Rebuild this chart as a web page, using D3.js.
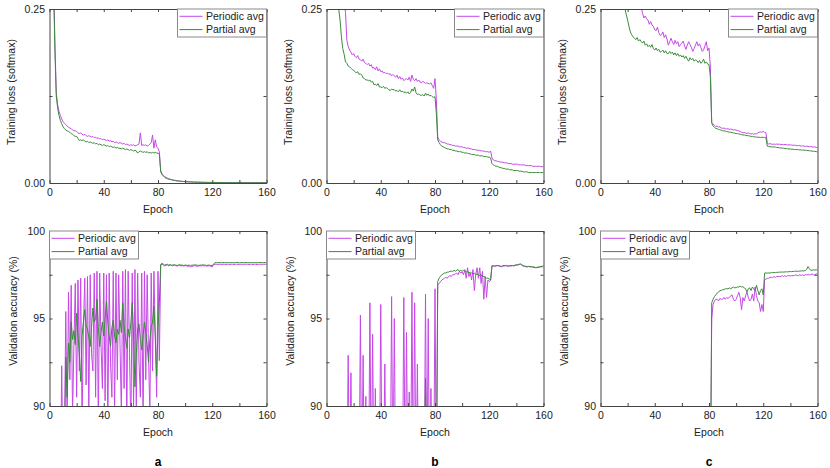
<!DOCTYPE html>
<html><head><meta charset="utf-8">
<script src="https://cdn.jsdelivr.net/npm/d3@7"></script>
<style>
html,body{margin:0;padding:0;background:#fff;}
svg text{font-family:"Liberation Sans",Arial,Helvetica,sans-serif;}
</style></head>
<body><svg id="chart" width="830" height="468"></svg>
<script>
// ---------- DATA (epochs 1..160) ----------
const epochs = d3.range(1, 161);
const seriesNames = ["Periodic avg", "Partial avg"];
const xTicks = [0, 20, 40, 60, 80, 100, 120, 140, 160];
const xTickLabels = [0, 40, 80, 120, 160];
const lossTicks = [0, 0.125, 0.25];
const lossTickLabels = [0, 0.25];
const accTicks = [90, 92.5, 95, 97.5, 100];
const accTickLabels = [90, 95, 100];
const panelLetters = ["a", "b", "c"];

const aLossP = [0.9,0.6,0.3,0.2,0.13,0.112,0.103,0.097,0.092,0.088,
0.086,0.084,0.082,0.080,0.079,0.078,0.076,0.075,0.075,0.074,
0.072,0.071,0.072,0.070,0.069,0.070,0.068,0.067,0.068,0.067,
0.066,0.067,0.065,0.066,0.064,0.065,0.063,0.064,0.062,0.063,
0.062,0.061,0.062,0.060,0.061,0.059,0.060,0.058,0.059,0.058,
0.057,0.058,0.057,0.056,0.057,0.055,0.056,0.055,0.054,0.055,
0.054,0.055,0.053,0.054,0.055,0.056,0.072,0.054,0.055,0.054,
0.055,0.053,0.054,0.056,0.058,0.069,0.050,0.062,0.052,0.050,
0.045,0.018,0.013,0.011,0.009,0.008,0.007,0.006,0.0055,0.005,
0.0045,0.004,0.0037,0.0034,0.003,0.0028,0.0026,0.0024,0.0022,0.002,
0.0019,0.0018,0.0017,0.0016,0.0015,0.0014,0.0013,0.0013,0.0012,0.0012,
0.0011,0.0011,0.0010,0.0010,0.0010,0.0009,0.0009,0.0009,0.0009,0.0008,
0.0008,0.0008,0.0008,0.0008,0.0007,0.0007,0.0007,0.0007,0.0007,0.0007,
0.0007,0.0006,0.0006,0.0006,0.0006,0.0006,0.0006,0.0006,0.0006,0.0006,
0.0006,0.0006,0.0005,0.0005,0.0005,0.0005,0.0005,0.0005,0.0005,0.0005,
0.0005,0.0005,0.0005,0.0005,0.0005,0.0005,0.0005,0.0005,0.0005,0.0005];

const aLossG = [0.9,0.6,0.28,0.19,0.125,0.108,0.097,0.090,0.085,0.081,
0.078,0.076,0.075,0.074,0.073,0.071,0.070,0.068,0.067,0.067,
0.064,0.061,0.062,0.061,0.062,0.060,0.059,0.060,0.058,0.059,
0.058,0.057,0.058,0.056,0.057,0.055,0.056,0.055,0.054,0.055,
0.054,0.053,0.054,0.052,0.053,0.052,0.051,0.052,0.050,0.051,
0.050,0.050,0.049,0.050,0.049,0.048,0.049,0.048,0.047,0.048,
0.047,0.046,0.047,0.046,0.043,0.045,0.046,0.045,0.044,0.045,
0.044,0.045,0.043,0.044,0.043,0.044,0.043,0.044,0.043,0.043,
0.041,0.016,0.012,0.010,0.008,0.007,0.006,0.0055,0.005,0.0045,
0.004,0.0036,0.0033,0.003,0.0028,0.0026,0.0024,0.0022,0.002,0.0019,
0.0018,0.0017,0.0016,0.0015,0.0014,0.0013,0.0012,0.0012,0.0011,0.0011,
0.0010,0.0010,0.0009,0.0009,0.0009,0.0008,0.0008,0.0008,0.0008,0.0007,
0.0007,0.0007,0.0007,0.0007,0.0006,0.0006,0.0006,0.0006,0.0006,0.0006,
0.0006,0.0005,0.0005,0.0005,0.0005,0.0005,0.0005,0.0005,0.0005,0.0005,
0.0005,0.0005,0.0004,0.0004,0.0004,0.0004,0.0004,0.0004,0.0004,0.0004,
0.0004,0.0004,0.0004,0.0004,0.0004,0.0004,0.0004,0.0004,0.0004,0.0004];

const aAccP = [85,85,85,85,85,85,85,85,92.3,86,
88,95.4,89,96.5,91.5,96.9,89.5,93.5,97.0,90.5,
97.2,92.0,97.3,89,94.5,97.3,91.2,97.4,89.5,97.5,
93.0,92.0,97.6,90.5,97.7,89,97.6,93.5,91,97.6,
90.3,97.5,88.5,97.6,92.5,90.5,97.7,89.5,97.6,91.5,
97.5,93.5,89.5,97.7,91.0,97.8,89.0,97.7,93.0,88.5,
97.6,90.0,97.8,89.5,97.6,92.5,90.5,97.6,89,97.7,
91.5,97.5,93.0,89.5,97.6,92.0,97.7,94.0,90.5,97.7,
92.6,98.05,98.1,98.05,98.0,98.05,98.05,98.0,98.05,98.03,
98.0,98.05,98.02,98.0,98.03,98.05,98.0,98.02,98.0,98.03,
98.0,97.98,98.0,97.95,97.97,98.0,98.02,98.0,97.98,98.0,
98.02,98.0,98.03,98.0,98.02,98.0,98.0,98.02,97.98,97.95,
98.08,98.1,98.1,98.08,98.1,98.1,98.08,98.1,98.1,98.08,
98.1,98.1,98.08,98.1,98.1,98.08,98.1,98.1,98.1,98.08,
98.1,98.1,98.08,98.1,98.1,98.1,98.08,98.1,98.1,98.08,
98.1,98.1,98.08,98.1,98.1,98.1,98.08,98.1,98.1,98.08];

const aAccG = [85,85,85,85,85,85,85,85,85,85,
87,92.8,90.5,93.6,92.5,94.8,93.8,94.3,93.5,95.3,
94.0,93.0,91.4,94.0,94.8,95.5,94.6,94.4,93.9,93.4,
94.5,95.6,94.8,95.0,96.1,94.5,93.4,94.2,94.8,94.0,
95.0,96.0,94.8,94.0,93.4,94.5,94.9,94.0,93.6,94.4,
94.1,94.9,94.2,95.9,94.6,93.9,93.3,94.4,93.9,94.8,
95.9,94.0,91.1,93.0,94.4,94.7,93.8,93.2,94.0,94.8,
94.2,93.5,92.5,93.8,94.5,94.8,95.7,94.0,91.7,94.5,
95.9,98.1,98.15,98.1,98.05,98.08,98.1,98.05,98.08,98.05,
98.05,98.08,98.05,98.03,98.05,98.07,98.05,98.05,98.03,98.05,
98.05,98.03,98.05,98.03,98.05,98.05,98.07,98.05,98.05,98.03,
98.05,98.05,98.07,98.05,98.05,98.03,98.05,98.05,98.03,98.02,
98.12,98.18,98.2,98.18,98.2,98.2,98.18,98.2,98.2,98.18,
98.2,98.2,98.18,98.2,98.2,98.18,98.2,98.2,98.2,98.18,
98.2,98.2,98.18,98.2,98.2,98.2,98.18,98.2,98.2,98.18,
98.2,98.2,98.18,98.2,98.2,98.2,98.18,98.2,98.2,98.18];

const bLossP = [0.6,0.5,0.45,0.42,0.4,0.38,0.36,0.34,0.32,0.30,
0.29,0.28,0.265,0.245,0.205,0.196,0.191,0.188,0.184,0.186,
0.182,0.180,0.183,0.178,0.177,0.175,0.178,0.173,0.172,0.170,
0.172,0.168,0.170,0.165,0.166,0.163,0.167,0.161,0.164,0.160,
0.161,0.158,0.159,0.157,0.158,0.156,0.157,0.154,0.156,0.154,
0.152,0.155,0.150,0.153,0.149,0.151,0.147,0.149,0.150,0.148,
0.152,0.146,0.155,0.149,0.147,0.150,0.146,0.148,0.145,0.144,
0.146,0.145,0.143,0.144,0.143,0.142,0.144,0.140,0.136,0.150,
0.120,0.066,0.062,0.060,0.059,0.058,0.058,0.057,0.056,0.056,
0.055,0.055,0.054,0.054,0.053,0.053,0.053,0.052,0.052,0.052,
0.051,0.051,0.050,0.050,0.050,0.049,0.049,0.048,0.048,0.048,
0.047,0.047,0.047,0.046,0.046,0.046,0.045,0.045,0.045,0.044,
0.046,0.036,0.033,0.032,0.032,0.031,0.031,0.030,0.030,0.030,
0.029,0.029,0.029,0.028,0.028,0.028,0.027,0.027,0.027,0.027,
0.027,0.026,0.026,0.026,0.026,0.026,0.025,0.025,0.025,0.025,
0.025,0.024,0.024,0.024,0.024,0.024,0.024,0.0235,0.0235,0.0235];

const bLossG = [0.6,0.5,0.45,0.40,0.36,0.32,0.29,0.27,0.25,0.234,
0.210,0.193,0.185,0.174,0.172,0.168,0.167,0.165,0.163,0.162,
0.160,0.158,0.160,0.156,0.157,0.155,0.151,0.150,0.148,0.148,
0.147,0.148,0.145,0.146,0.141,0.142,0.140,0.143,0.138,0.138,
0.137,0.139,0.136,0.137,0.136,0.134,0.133,0.135,0.134,0.134,
0.132,0.133,0.131,0.134,0.131,0.132,0.130,0.131,0.129,0.131,
0.128,0.130,0.135,0.132,0.138,0.130,0.127,0.128,0.126,0.126,
0.127,0.125,0.129,0.126,0.128,0.125,0.126,0.124,0.123,0.124,
0.100,0.062,0.058,0.055,0.053,0.052,0.051,0.050,0.049,0.049,
0.048,0.048,0.047,0.047,0.046,0.046,0.045,0.045,0.045,0.044,
0.044,0.043,0.043,0.043,0.042,0.042,0.041,0.041,0.041,0.040,
0.040,0.040,0.039,0.039,0.039,0.038,0.038,0.038,0.037,0.037,
0.036,0.028,0.026,0.025,0.024,0.024,0.023,0.022,0.022,0.021,
0.021,0.020,0.020,0.020,0.019,0.019,0.019,0.018,0.018,0.018,
0.018,0.017,0.017,0.017,0.016,0.016,0.016,0.016,0.015,0.015,
0.015,0.015,0.015,0.015,0.015,0.015,0.015,0.015,0.015,0.015];

const bAccP = [85,85,85,85,85,85,85,85,85,85,
85,85,85,85,85,92.9,85,91.9,85,85,
85,85,85,85,95.2,85,92.9,85,90.55,85,
85,95.9,85,94.1,85,91.0,85,85,85,95.8,
85,85,92.4,85,85,85,85,96.25,85,95.0,
85,85,85,85,85,85,96.2,85,94.2,85,
90.8,85,96.5,85,95.9,85,92.4,85,85,85,
85,85,96.4,85,95.0,85,91.0,85,85,96.7,
85,96.9,97.0,97.1,97.2,97.25,97.3,97.35,97.3,97.4,
97.45,97.4,97.5,97.5,97.55,97.6,97.5,97.7,97.6,97.65,
97.5,97.8,97.3,97.9,97.4,97.6,97.2,97.8,96.6,97.5,
97.9,97.3,97.9,97.0,97.7,96.1,97.4,96.2,97.2,97.1,
97.2,98.0,98.0,97.98,98.0,98.02,98.0,97.98,97.95,98.0,
98.0,98.02,98.0,97.98,98.0,98.0,98.02,98.0,98.03,98.05,
98.05,98.08,98.1,98.05,98.0,97.98,97.95,97.95,97.97,97.95,
97.95,97.93,97.92,97.9,97.9,97.92,97.93,97.95,97.95,98.0];

const bAccG = [85,85,85,85,85,85,85,85,85,85,
85,85,85,85,85,85,85,85,85,85,
85,85,85,85,85,85,85,85,85,85,
85,85,85,85,85,85,85,85,85,85,
85,85,85,85,85,85,85,85,85,85,
85,85,85,85,85,85,85,85,85,85,
85,85,85,85,85,85,85,85,85,85,
85,85,91.6,85,85,85,85,85,85,85,
85,97.1,97.3,97.4,97.5,97.55,97.6,97.6,97.65,97.65,
97.7,97.7,97.7,97.75,97.7,97.75,97.8,97.7,97.75,97.7,
97.75,97.7,97.65,97.7,97.6,97.65,97.6,97.55,97.6,97.5,
97.55,97.5,97.45,97.5,97.4,97.4,97.35,97.3,97.3,97.25,
97.2,98.02,98.02,98.0,98.02,98.03,98.02,98.0,97.98,98.02,
98.02,98.03,98.02,98.0,98.02,98.02,98.03,98.02,98.05,98.07,
98.08,98.1,98.12,98.07,98.02,98.0,97.98,97.97,97.98,97.97,
97.97,97.95,97.94,97.92,97.92,97.94,97.95,97.97,97.98,98.02];

const cLossP = [0.70,0.62,0.56,0.52,0.48,0.45,0.43,0.41,0.39,0.375,
0.36,0.35,0.34,0.33,0.32,0.315,0.31,0.305,0.30,0.295,
0.29,0.285,0.28,0.275,0.27,0.268,0.265,0.262,0.258,0.252,
0.244,0.237,0.240,0.236,0.234,0.228,0.232,0.227,0.225,0.220,
0.219,0.224,0.216,0.212,0.213,0.217,0.209,0.213,0.207,0.198,
0.203,0.208,0.203,0.199,0.205,0.200,0.203,0.196,0.199,0.201,
0.204,0.197,0.192,0.198,0.203,0.199,0.195,0.189,0.193,0.198,
0.203,0.197,0.200,0.195,0.189,0.191,0.197,0.203,0.190,0.194,
0.167,0.087,0.085,0.083,0.081,0.082,0.080,0.081,0.079,0.0785,
0.079,0.078,0.0775,0.078,0.077,0.0775,0.077,0.076,0.0765,0.076,
0.0755,0.075,0.074,0.073,0.072,0.0725,0.072,0.071,0.072,0.071,
0.0705,0.071,0.070,0.071,0.0705,0.072,0.073,0.0735,0.073,0.074,
0.073,0.072,0.057,0.056,0.0565,0.056,0.0555,0.056,0.0555,0.056,
0.0555,0.056,0.055,0.0555,0.055,0.0555,0.055,0.0545,0.055,0.0546,
0.0545,0.054,0.0545,0.054,0.0535,0.054,0.0535,0.053,0.0535,0.053,
0.0525,0.053,0.0525,0.052,0.0525,0.052,0.0515,0.052,0.051,0.051];

const cLossG = [0.6,0.53,0.48,0.44,0.41,0.38,0.36,0.34,0.325,0.31,
0.30,0.29,0.28,0.272,0.265,0.26,0.255,0.250,0.242,0.234,
0.225,0.217,0.213,0.210,0.208,0.206,0.209,0.204,0.206,0.203,
0.201,0.204,0.198,0.200,0.196,0.198,0.195,0.199,0.193,0.191,
0.194,0.190,0.192,0.188,0.189,0.191,0.187,0.190,0.186,0.186,
0.189,0.186,0.188,0.184,0.187,0.183,0.186,0.182,0.184,0.181,
0.183,0.179,0.182,0.178,0.175,0.180,0.177,0.179,0.175,0.177,
0.176,0.173,0.176,0.172,0.174,0.178,0.172,0.174,0.171,0.170,
0.153,0.086,0.082,0.080,0.0785,0.078,0.077,0.0765,0.076,0.075,
0.075,0.0745,0.074,0.0735,0.073,0.073,0.0725,0.072,0.0715,0.071,
0.071,0.0705,0.070,0.0695,0.069,0.069,0.0685,0.068,0.068,0.0675,
0.067,0.067,0.0665,0.066,0.066,0.0658,0.0656,0.0655,0.0656,0.0656,
0.0655,0.065,0.053,0.0525,0.052,0.052,0.0515,0.052,0.0515,0.051,
0.051,0.0505,0.0505,0.050,0.050,0.0495,0.0495,0.049,0.049,0.0488,
0.0485,0.0485,0.048,0.048,0.048,0.0478,0.0476,0.0475,0.0474,0.0474,
0.047,0.047,0.0465,0.0465,0.046,0.046,0.0455,0.0455,0.045,0.045];

const cAccP = [85,85,85,85,85,85,85,85,85,85,
85,85,85,85,85,85,85,85,85,85,
85,85,85,85,85,85,85,85,85,85,
85,85,85,85,85,85,85,85,85,85,
85,85,85,85,85,85,85,85,85,85,
85,85,85,85,85,85,85,85,85,85,
85,85,85,85,85,85,85,85,85,85,
85,85,85,85,85,85,85,85,85,85,
85,95.0,95.8,96.0,96.1,96.1,96.0,96.15,96.1,96.1,
96.2,96.1,96.2,96.15,96.2,96.3,96.35,96.1,96.0,96.1,
96.3,96.5,96.2,95.5,96.2,96.0,96.3,96.5,96.2,96.0,
96.1,96.4,96.0,96.8,96.3,96.0,95.9,95.4,95.8,95.4,
97.2,97.25,97.3,97.3,97.35,97.35,97.35,97.4,97.35,97.4,
97.4,97.4,97.4,97.45,97.4,97.45,97.4,97.45,97.45,97.43,
97.45,97.45,97.45,97.5,97.45,97.45,97.5,97.45,97.5,97.45,
97.5,97.5,97.5,97.5,97.5,97.55,97.5,97.5,97.55,97.55];

const cAccG = [85,85,85,85,85,85,85,85,85,85,
85,85,85,85,85,85,85,85,85,85,
85,85,85,85,85,85,85,85,85,85,
85,85,85,85,85,85,85,85,85,85,
85,85,85,85,85,85,85,85,85,85,
85,85,85,85,85,85,85,85,85,85,
85,85,85,85,85,85,85,85,85,85,
85,85,85,85,85,85,85,85,85,85,
85,95.9,96.1,96.25,96.35,96.45,96.5,96.6,96.6,96.65,
96.65,96.7,96.7,96.7,96.75,96.7,96.75,96.8,96.75,96.77,
96.8,96.8,96.85,96.8,96.82,96.75,96.7,96.5,96.7,96.75,
96.6,96.8,96.7,96.6,96.9,96.6,96.35,96.6,96.7,96.35,
97.6,97.6,97.6,97.6,97.6,97.62,97.62,97.63,97.62,97.64,
97.64,97.65,97.65,97.66,97.65,97.66,97.67,97.66,97.68,97.68,
97.68,97.69,97.7,97.7,97.7,97.7,97.71,97.72,97.72,97.72,
97.74,97.8,97.97,97.85,97.75,97.76,97.78,97.77,97.78,97.78];

// ---------- LAYOUT / STYLE ----------
const colorP = "#c548e6", colorG = "#3b8b3b";
const axisColor = "#444", textColor = "#222";
const fontSize = "10.5px";
const colX = [49.5, 326.5, 600.5];
const plotW = 217;
const rowsY = [{y0: 9, y1: 183}, {y0: 231, y1: 406}];

const svg = d3.select("#chart");

const panels = [
  {col:0,row:0,p:aLossP,g:aLossG,kind:"loss"},
  {col:1,row:0,p:bLossP,g:bLossG,kind:"loss"},
  {col:2,row:0,p:cLossP,g:cLossG,kind:"loss"},
  {col:0,row:1,p:aAccP,g:aAccG,kind:"acc"},
  {col:1,row:1,p:bAccP,g:bAccG,kind:"acc"},
  {col:2,row:1,p:cAccP,g:cAccG,kind:"acc"}
];

panels.forEach((pn, i) => {
  const x0 = colX[pn.col], x1 = x0 + plotW;
  const {y0, y1} = rowsY[pn.row];
  const isLoss = pn.kind === "loss";
  const x = d3.scaleLinear().domain([0, 160]).range([x0, x1]);
  const y = d3.scaleLinear().domain(isLoss ? [0, 0.25] : [90, 100]).range([y1, y0]);
  const g = svg.append("g");

  const clipId = "clip" + i;
  svg.append("clipPath").attr("id", clipId).append("rect")
    .attr("x", x0).attr("y", y0).attr("width", plotW).attr("height", y1 - y0);

  const line = d3.line().x((d, k) => x(epochs[k])).y(d => y(d));
  const lg = g.append("g").attr("clip-path", `url(#${clipId})`);
  lg.append("path").datum(pn.p).attr("d", line).attr("fill", "none")
    .attr("stroke", colorP).attr("stroke-width", 1);
  lg.append("path").datum(pn.g).attr("d", line).attr("fill", "none")
    .attr("stroke", colorG).attr("stroke-width", 1);

  const yT = isLoss ? lossTicks : accTicks;
  const yL = isLoss ? lossTickLabels : accTickLabels;
  const yFmt = d => yL.includes(d) ? (isLoss ? d3.format(".2f")(d) : d) : "";
  const xFmt = d => xTickLabels.includes(d) ? d : "";

  const styleAxis = sel => {
    sel.selectAll("path.domain").attr("stroke", axisColor).attr("stroke-width", 1);
    sel.selectAll(".tick line").attr("stroke", axisColor);
    sel.selectAll("text").attr("fill", textColor).style("font-size", fontSize)
      .style("font-family", '"Liberation Sans", Arial, sans-serif');
  };

  g.append("g").attr("transform", `translate(0,${y1})`)
    .call(d3.axisBottom(x).tickValues(xTicks).tickSizeInner(-3).tickSizeOuter(0).tickPadding(6).tickFormat(xFmt))
    .call(styleAxis);
  g.append("g").attr("transform", `translate(0,${y0})`)
    .call(d3.axisTop(x).tickValues(xTicks).tickSizeInner(-3).tickSizeOuter(0).tickFormat(""))
    .call(styleAxis);
  g.append("g").attr("transform", `translate(${x0},0)`)
    .call(d3.axisLeft(y).tickValues(yT).tickSizeInner(-3).tickSizeOuter(0).tickPadding(4.5).tickFormat(yFmt))
    .call(styleAxis);
  g.append("g").attr("transform", `translate(${x1},0)`)
    .call(d3.axisRight(y).tickValues(yT).tickSizeInner(-3).tickSizeOuter(0).tickFormat(""))
    .call(styleAxis);

  // axis titles
  g.append("text").attr("x", (x0 + x1) / 2).attr("y", y1 + 30)
    .attr("text-anchor", "middle").attr("fill", textColor).style("font-size", fontSize).text("Epoch");
  const cy = isLoss ? (y0 + y1) / 2 - 4 : (y0 + y1) / 2 - 7.5;
  const cx = isLoss ? x0 - 38.5 : x0 - 36.5;
  g.append("text").attr("transform", `translate(${cx},${cy}) rotate(-90)`)
    .attr("dy", "0.35em").attr("text-anchor", "middle").attr("fill", textColor)
    .style("font-size", fontSize).text(isLoss ? "Training loss (softmax)" : "Validation accuracy (%)");

  // legend
  const bw = 89, bh = 28;
  const bx = isLoss ? x1 - bw : x0;
  const by = y0;
  const leg = g.append("g").attr("transform", `translate(${bx},${by})`);
  leg.append("rect").attr("x", 0).attr("y", 0).attr("width", bw).attr("height", bh)
    .attr("fill", "#fff").attr("stroke", "#8a8a8a").attr("stroke-width", 1);
  [colorP, colorG].forEach((c, k) => {
    const ry = 7.3 + k * 13.3;
    leg.append("line").attr("x1", 2).attr("x2", 25).attr("y1", ry).attr("y2", ry)
      .attr("stroke", c).attr("stroke-width", 1);
    leg.append("text").attr("x", 28.5).attr("y", ry).attr("dy", "0.35em")
      .attr("fill", textColor).style("font-size", fontSize).text(seriesNames[k]);
  });

  if (!isLoss) {
    svg.append("text").attr("x", (x0 + x1) / 2).attr("y", 466)
      .attr("text-anchor", "middle").attr("fill", "#000")
      .style("font-size", "12px").style("font-weight", "bold").text(panelLetters[pn.col]);
  }
});
</script>
</body></html>
